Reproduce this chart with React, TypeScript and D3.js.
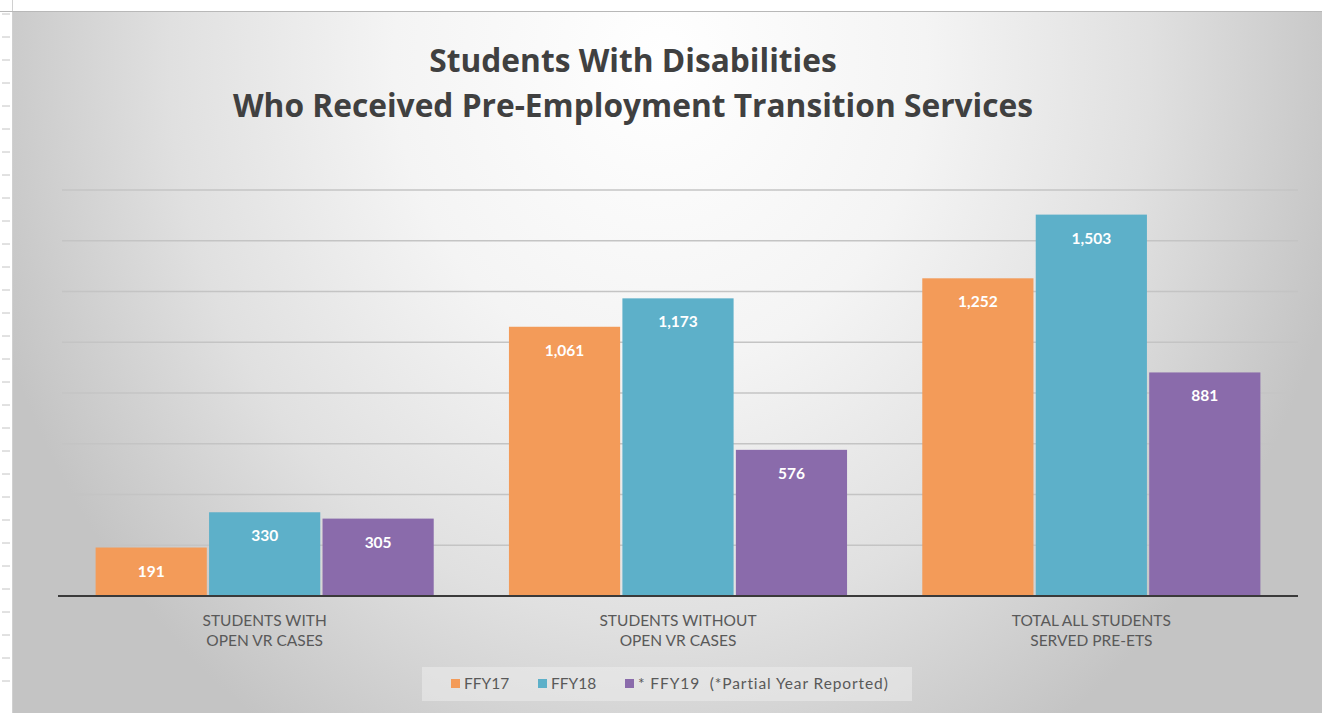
import React from "react";
import * as d3 from "d3";

const categories: string[][] = [
  ["STUDENTS WITH", "OPEN VR CASES"],
  ["STUDENTS WITHOUT", "OPEN VR CASES"],
  ["TOTAL ALL STUDENTS", "SERVED PRE-ETS"],
];
const seriesNames = ["FFY17", "FFY18", "* FFY19  (*Partial Year Reported)"];
const ffy17 = [191, 1061, 1252];
const ffy18 = [330, 1173, 1503];
const ffy19 = [305, 576, 881];
const seriesValues = [ffy17, ffy18, ffy19];
const colors = ["#F39B59", "#5DB0C9", "#8A6BAB"];
const gridTicks = [200, 400, 600, 800, 1000, 1200, 1400, 1600];
const titleLines = ["Students With Disabilities", "Who Received Pre-Employment Transition Services"];

const W = 1322;
const H = 713;
const plotLeft = 58;
const plotRight = 1298;
const plotTop = 190;
const plotBottom = 596;

export default function App() {
  const x0 = d3
    .scaleBand<number>()
    .domain(d3.range(categories.length))
    .range([plotLeft, plotRight])
    .paddingInner(0.182)
    .paddingOuter(0.091);
  const x1 = d3
    .scaleBand<number>()
    .domain(d3.range(seriesNames.length))
    .range([0, x0.bandwidth()])
    .paddingInner(0.02);
  const y = d3.scaleLinear().domain([0, 1600]).range([plotBottom, plotTop]);
  const fmt = d3.format(",");
  const font = "Lato, 'Open Sans', sans-serif";
  const titleFont = "'Open Sans', Lato, sans-serif";

  const legendItems = [
    { x: 451, label: seriesNames[0], ls: 0 },
    { x: 538, label: seriesNames[1], ls: 0 },
    { x: 625, label: seriesNames[2], ls: 0.9 },
  ];

  return (
    <svg width={W} height={H} style={{ position: "absolute", left: 0, top: 0 }}>
      <defs>
        <radialGradient
          id="bg"
          gradientUnits="userSpaceOnUse"
          cx={660}
          cy={60}
          r={700}
          gradientTransform="translate(660 60) scale(1 1.15) translate(-660 -60)"
        >
          <stop offset="0" stopColor="#ffffff" />
          <stop offset="0.38" stopColor="#f4f4f4" />
          <stop offset="0.7" stopColor="#e0e0e0" />
          <stop offset="1" stopColor="#c4c4c4" />
        </radialGradient>
      </defs>
      <rect x={0} y={0} width={W} height={H} fill="#ffffff" />
      {d3.range(0, 30).map((i) => (
        <line key={"lt" + i} x1={2} x2={10} y1={14 + i * 23} y2={14 + i * 23} stroke="#c4c4c4" strokeWidth={1} />
      ))}
      <line x1={12.5} x2={12.5} y1={0} y2={H} stroke="#d0d0d0" strokeWidth={1} />
      <line x1={0} x2={W} y1={11.5} y2={11.5} stroke="#b8b8b8" strokeWidth={1} />
      <rect x={13} y={12} width={W - 13} height={H - 12} fill="url(#bg)" />

      {titleLines.map((t, i) => (
        <text
          key={"t" + i}
          x={633}
          y={72 + i * 45}
          textAnchor="middle"
          fontFamily={titleFont}
          fontWeight={700}
          fontSize={31.7}
          fill="#404040"
        >
          {t}
        </text>
      ))}

      {gridTicks.map((v) => (
        <line
          key={"g" + v}
          x1={plotLeft + 4}
          x2={plotRight}
          y1={y(v)}
          y2={y(v)}
          stroke="#c4c4c4"
          strokeWidth={1.6}
        />
      ))}

      {categories.map((cat, ci) =>
        seriesValues.map((vals, si) => {
          const bx = (x0(ci) as number) + (x1(si) as number);
          const by = y(vals[ci]);
          return (
            <g key={`b${ci}-${si}`}>
              <rect x={bx} y={by} width={x1.bandwidth()} height={plotBottom - by} fill={colors[si]} />
              <text
                x={bx + x1.bandwidth() / 2}
                y={by + 29}
                textAnchor="middle"
                fontFamily={font}
                fontWeight={700}
                fontSize={15.5}
                fill="#ffffff"
              >
                {fmt(vals[ci])}
              </text>
            </g>
          );
        })
      )}

      <line x1={plotLeft} x2={plotRight} y1={plotBottom} y2={plotBottom} stroke="#3a3a3a" strokeWidth={2.2} />

      {categories.map((cat, ci) => (
        <text
          key={"c" + ci}
          x={(x0(ci) as number) + x0.bandwidth() / 2}
          y={626}
          textAnchor="middle"
          fontFamily={font}
          fontSize={15.5}
          fill="#595959"
        >
          {cat.map((line, li) => (
            <tspan key={li} x={(x0(ci) as number) + x0.bandwidth() / 2} dy={li === 0 ? 0 : 20}>
              {line}
            </tspan>
          ))}
        </text>
      ))}

      <rect x={422} y={667} width={490} height={34} fill="#ececec" opacity={0.55} />
      {legendItems.map((it, i) => (
        <g key={"l" + i}>
          <rect x={it.x} y={679} width={9} height={9} fill={colors[i]} />
          <text
            x={it.x + 13}
            y={689}
            fontFamily={font}
            fontSize={15.5}
            fill="#595959"
            letterSpacing={it.ls}
            style={{ whiteSpace: "pre" }}
          >
            {it.label}
          </text>
        </g>
      ))}
    </svg>
  );
}
